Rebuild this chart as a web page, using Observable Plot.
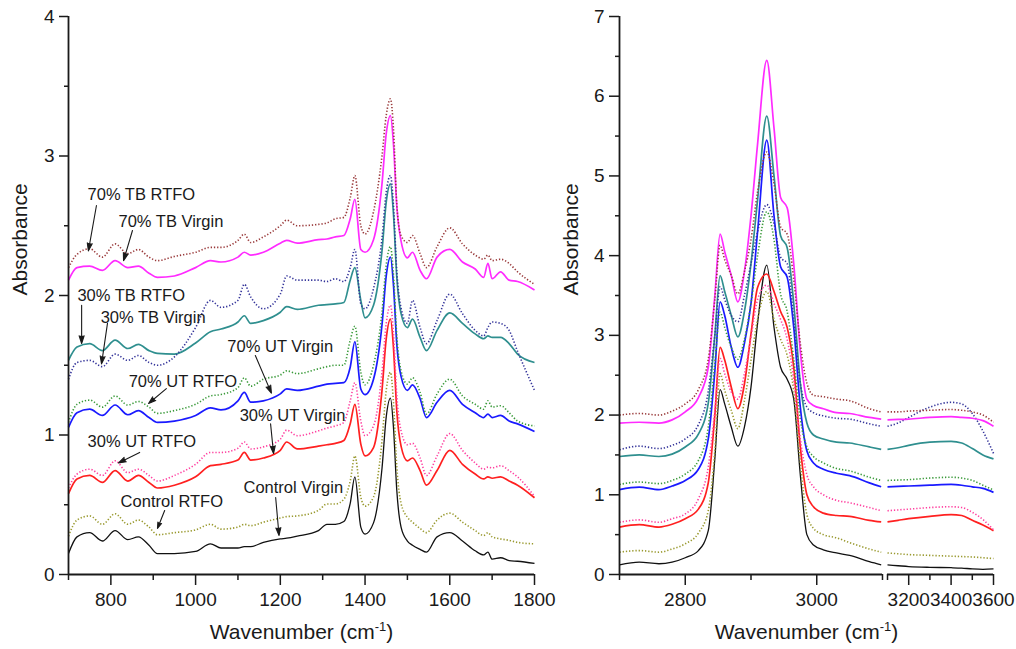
<!DOCTYPE html>
<html><head><meta charset="utf-8">
<script src="https://cdn.jsdelivr.net/npm/d3@7"></script>
<script src="https://cdn.jsdelivr.net/npm/@observablehq/plot@0.6"></script>
<style>
html,body{margin:0;padding:0;background:#fff;}
#wrap{display:flex;width:1016px;height:649px;}
svg{font-family:"Liberation Sans",Arial,sans-serif;}
</style></head><body><div id="wrap"></div>
<script>
// ---------- series definitions ----------
const seriesNames  = ["Control Virgin","Control RTFO","30% UT Virgin","30% UT RTFO","70% UT Virgin","70% UT RTFO","30% TB RTFO","30% TB Virgin","70% TB Virgin","70% TB RTFO"];
const seriesColors = ["#111111","#99992e","#ff2020","#ff3f9f","#1a1aff","#3a9a3a","#2f8f8f","#34349a","#ff2bff","#99393a"];
const seriesDotted = [false,true,false,true,false,true,false,true,false,true];

// ---------- left panel (fingerprint region) ----------
const leftWavenumbers = [700,720,750,780,810,840,865,890,910,950,1000,1035,1060,1100,1115,1130,1160,1200,1215,1240,1290,1310,1330,1350,1365,1376,1390,1400,1420,1440,1450,1460,1467,1475,1485,1500,1512,1530,1545,1570,1600,1630,1660,1680,1690,1700,1720,1740,1760,1800];
const leftControlVirgin = [.15,.27,.30,.24,.315,.25,.27,.21,.15,.15,.165,.22,.19,.19,.20,.20,.23,.255,.26,.275,.315,.36,.36,.38,.51,.70,.34,.29,.37,.76,1.13,1.265,1.06,.60,.34,.24,.21,.18,.16,.27,.30,.24,.17,.14,.16,.11,.12,.10,.095,.08];
const leftControlRTFO   = [.275,.39,.42,.36,.435,.36,.39,.34,.285,.30,.32,.36,.325,.34,.36,.35,.375,.405,.415,.42,.46,.505,.505,.54,.67,.85,.555,.49,.555,.96,1.32,1.45,1.24,.77,.51,.41,.375,.33,.30,.39,.44,.375,.315,.28,.30,.27,.255,.245,.23,.22];
const leftUT30Virgin    = [.58,.685,.71,.66,.745,.67,.71,.66,.62,.64,.70,.78,.79,.82,.875,.82,.835,.89,.95,.90,.92,.93,.94,.96,1.08,1.22,.935,.85,.91,1.32,1.69,1.83,1.63,1.17,.92,.815,.835,.745,.64,.745,.89,.79,.72,.685,.70,.69,.70,.67,.64,.55];
const leftUT30RTFO      = [.62,.72,.755,.71,.815,.73,.755,.71,.67,.71,.79,.875,.875,.905,.95,.90,.915,.97,1.035,.995,1.03,1.05,1.065,1.09,1.245,1.375,1.10,.995,1.065,1.45,1.80,1.93,1.73,1.28,1.03,.93,.94,.835,.71,.85,1.01,.89,.80,.755,.77,.765,.78,.745,.70,.56];
const leftUT70Virgin    = [1.055,1.16,1.185,1.14,1.215,1.145,1.175,1.125,1.09,1.10,1.14,1.195,1.18,1.245,1.305,1.235,1.245,1.295,1.33,1.32,1.35,1.365,1.37,1.375,1.486,1.67,1.33,1.29,1.40,1.79,2.14,2.275,2.08,1.65,1.42,1.32,1.36,1.26,1.125,1.235,1.32,1.22,1.16,1.125,1.15,1.125,1.14,1.10,1.08,1.025];
const leftUT70RTFO      = [1.09,1.22,1.25,1.20,1.28,1.215,1.24,1.20,1.155,1.175,1.22,1.28,1.29,1.34,1.41,1.35,1.40,1.43,1.46,1.44,1.475,1.49,1.50,1.50,1.68,1.78,1.45,1.36,1.50,1.88,2.22,2.35,2.15,1.71,1.46,1.365,1.41,1.305,1.15,1.295,1.40,1.28,1.22,1.185,1.245,1.20,1.21,1.16,1.10,1.065];
const leftTB30RTFO      = [1.535,1.63,1.655,1.605,1.68,1.62,1.65,1.605,1.585,1.58,1.66,1.74,1.76,1.81,1.855,1.80,1.82,1.88,1.92,1.90,1.93,1.935,1.94,1.95,2.11,2.20,1.965,1.84,1.93,2.32,2.67,2.80,2.59,2.13,1.87,1.77,1.83,1.70,1.605,1.75,1.875,1.80,1.725,1.69,1.71,1.70,1.70,1.655,1.58,1.52];
const leftTB30Virgin    = [1.40,1.52,1.535,1.49,1.58,1.535,1.57,1.52,1.50,1.56,1.77,1.965,1.915,1.965,2.08,1.99,1.905,2.01,2.14,2.11,2.11,2.10,2.12,2.10,2.20,2.33,1.94,1.905,2.05,2.41,2.74,2.86,2.65,2.17,1.91,1.80,1.965,1.77,1.655,1.82,2.01,1.87,1.75,1.71,1.77,1.81,1.80,1.75,1.60,1.32];
const leftTB70Virgin    = [2.11,2.20,2.21,2.18,2.25,2.20,2.21,2.16,2.13,2.14,2.20,2.25,2.24,2.275,2.31,2.29,2.31,2.375,2.395,2.375,2.40,2.405,2.42,2.43,2.55,2.69,2.33,2.31,2.40,2.80,3.16,3.29,3.09,2.64,2.39,2.27,2.31,2.18,2.12,2.275,2.33,2.24,2.19,2.13,2.23,2.12,2.17,2.11,2.10,2.04];
const leftTB70RTFO      = [2.20,2.295,2.335,2.275,2.37,2.30,2.33,2.275,2.25,2.28,2.31,2.345,2.345,2.395,2.44,2.38,2.42,2.50,2.54,2.50,2.51,2.52,2.55,2.56,2.70,2.86,2.50,2.44,2.60,3.0,3.29,3.41,3.20,2.65,2.43,2.38,2.43,2.30,2.20,2.35,2.485,2.37,2.29,2.26,2.29,2.25,2.26,2.23,2.17,2.08];

// ---------- right panel (C-H stretch region, broken axis) ----------
const rightWavenumbersA = [2700,2730,2760,2780,2800,2820,2835,2845,2853,2860,2870,2880,2890,2900,2910,2924,2935,2945,2955,2965,2975,2985,2995,3010,3030,3050,3080,3098];
const rightWavenumbersB = [3100,3150,3200,3300,3400,3450,3500,3550,3600];
const rightControlVirginA = [.12,.155,.135,.155,.21,.30,.55,1.45,2.32,2.14,1.85,1.61,1.85,2.35,3.15,3.88,3.1,2.6,2.45,2.2,1.25,.50,.37,.31,.27,.24,.16,.12];
const rightControlRTFOA   = [.28,.30,.28,.32,.385,.52,.80,1.55,2.52,2.31,2.06,1.83,2.18,2.69,3.2,3.55,3.2,2.95,2.75,2.3,1.4,.75,.58,.50,.46,.40,.32,.28];
const rightUT30VirginA    = [.595,.625,.595,.63,.70,.82,1.15,2.0,2.85,2.69,2.35,2.08,2.39,3.02,3.6,3.77,3.55,3.3,3.1,2.6,1.6,1.0,.85,.77,.74,.73,.68,.66];
const rightUT30RTFOA      = [.655,.685,.655,.70,.76,.95,1.35,2.05,2.71,2.52,2.29,2.20,2.52,2.98,3.45,3.63,3.4,3.2,2.95,2.45,1.7,1.25,1.10,1.0,.93,.90,.84,.80];
const rightUT70VirginA    = [1.065,1.095,1.065,1.11,1.18,1.32,1.70,2.55,3.42,3.25,2.85,2.60,2.9,3.4,4.3,5.45,4.5,3.86,3.73,3.1,2.1,1.55,1.40,1.32,1.27,1.24,1.15,1.10];
const rightUT70RTFOA      = [1.13,1.16,1.14,1.18,1.26,1.43,1.85,2.65,3.29,3.1,2.85,2.70,2.95,3.4,4.0,4.55,4.2,3.52,3.3,2.7,1.95,1.6,1.48,1.40,1.33,1.30,1.22,1.18];
const rightTB30RTFOA      = [1.48,1.50,1.48,1.51,1.60,1.76,2.15,3.0,3.75,3.55,3.25,2.98,3.3,3.9,4.7,5.75,5.0,4.25,4.1,3.4,2.4,1.9,1.75,1.70,1.66,1.65,1.60,1.57];
const rightTB30VirginA    = [1.565,1.61,1.58,1.62,1.70,1.88,2.30,3.0,3.61,3.45,3.25,3.17,3.5,3.9,4.3,4.64,4.4,3.98,3.9,3.2,2.4,2.1,2.03,1.99,1.96,1.95,1.89,1.86];
const rightTB70VirginA    = [1.90,1.91,1.90,1.94,2.04,2.22,2.60,3.5,4.27,4.05,3.75,3.42,3.8,4.5,5.4,6.45,5.6,4.73,4.6,3.9,2.8,2.2,2.12,2.08,2.03,2.02,1.97,1.95];
const rightTB70RTFOA      = [2.00,2.02,2.00,2.05,2.14,2.32,2.70,3.45,4.13,3.95,3.75,3.52,3.8,4.2,4.8,5.30,4.9,4.36,4.27,3.7,2.9,2.4,2.25,2.23,2.20,2.18,2.08,2.04];
const rightControlVirginB = [.12,.11,.10,.09,.085,.08,.07,.065,.07];
const rightControlRTFOB   = [.27,.26,.25,.24,.23,.225,.22,.21,.20];
const rightUT30VirginB    = [.66,.68,.70,.73,.75,.74,.68,.62,.55];
const rightUT30RTFOB      = [.80,.81,.82,.84,.85,.84,.78,.69,.56];
const rightUT70VirginB    = [1.10,1.105,1.11,1.12,1.13,1.12,1.10,1.08,1.03];
const rightUT70RTFOB      = [1.18,1.185,1.19,1.21,1.22,1.21,1.18,1.12,1.06];
const rightTB30RTFOB      = [1.57,1.59,1.62,1.66,1.67,1.65,1.58,1.50,1.45];
const rightTB30VirginB    = [1.86,1.90,1.97,2.10,2.16,2.14,2.02,1.80,1.52];
const rightTB70VirginB    = [1.94,1.945,1.95,1.97,1.98,1.97,1.96,1.93,1.86];
const rightTB70RTFOB      = [2.04,2.04,2.05,2.06,2.07,2.06,2.04,2.00,1.91];

// ---------- axes ticks ----------
const leftMajorTicks = [800,1000,1200,1400,1600,1800];
const leftMinorTicks = [700,900,1100,1300,1500,1700];
const leftYMajor = [0,1,2,3,4];
const leftYMinor = [0.5,1.5,2.5,3.5];
const rightMajorTicks = [2800,3000,3200,3400,3600];
const rightMinorTicks = [2700,2900,3099.99,3100,3300,3500];
const rightYMajor = [0,1,2,3,4,5,6,7];
const rightYMinor = [0.5,1.5,2.5,3.5,4.5,5.5,6.5];
const rightAxisPieces = [{x1:2700,x2:3099.99},{x1:3100,x2:3600}];

// ---------- annotations (left panel, data units) ----------
const annotationTexts = ["70% TB RTFO","70% TB Virgin","30% TB RTFO","30% TB Virgin","70% UT Virgin","70% UT RTFO","30% UT Virgin","30% UT RTFO","Control RTFO","Control Virgin"];
const annotationX = [745,818,721,776,1075,842,1104,745,823,1113];
const annotationY = [2.72,2.53,2.00,1.84,1.63,1.38,1.14,0.95,0.52,0.62];
const arrowFromX = [766,851,731,792,1141,931,1177,868,927,1189];
const arrowFromY = [2.645,2.466,1.93,1.80,1.57,1.333,1.08,0.875,0.459,0.552];
const arrowToX   = [747,830,731,778,1179,889,1184,818,910,1197];
const arrowToY   = [2.32,2.25,1.656,1.51,1.30,1.226,0.867,0.80,0.33,0.28];

// ---------- build tables ----------
const leftValues = [leftControlVirgin,leftControlRTFO,leftUT30Virgin,leftUT30RTFO,leftUT70Virgin,leftUT70RTFO,leftTB30RTFO,leftTB30Virgin,leftTB70Virgin,leftTB70RTFO];
const rightValuesA = [rightControlVirginA,rightControlRTFOA,rightUT30VirginA,rightUT30RTFOA,rightUT70VirginA,rightUT70RTFOA,rightTB30RTFOA,rightTB30VirginA,rightTB70VirginA,rightTB70RTFOA];
const rightValuesB = [rightControlVirginB,rightControlRTFOB,rightUT30VirginB,rightUT30RTFOB,rightUT70VirginB,rightUT70RTFOB,rightTB30RTFOB,rightTB30VirginB,rightTB70VirginB,rightTB70RTFOB];

const leftData = seriesNames.flatMap((s,si)=>leftValues[si].map((v,i)=>({series:s,seg:0,wn:leftWavenumbers[i],a:v})));
const rightData = seriesNames.flatMap((s,si)=>[
  ...rightValuesA[si].map((v,i)=>({series:s,seg:0,wn:rightWavenumbersA[i],a:v})),
  ...rightValuesB[si].map((v,i)=>({series:s,seg:1,wn:rightWavenumbersB[i],a:v}))
]);
const annotations = annotationTexts.map((t,i)=>({text:t,x:annotationX[i],y:annotationY[i]}));
const arrows = annotationTexts.map((t,i)=>({x1:arrowFromX[i],y1:arrowFromY[i],x2:arrowToX[i],y2:arrowToY[i]}));

const FONT = '"Liberation Sans", Arial, sans-serif';
const INK = "#1a1a1a";

function seriesMarks(data){
  return seriesNames.map((name,si)=>Plot.line(data.filter(d=>d.series===name),{
    x:"wn", y:"a", z:"seg", stroke:seriesColors[si],
    strokeWidth: seriesDotted[si] ? 1.6 : (si===0 ? 1.3 : 1.7),
    strokeDasharray: seriesDotted[si] ? "1.3,1.9" : null,
    strokeLinecap: "butt",
    curve:"monotone-x"
  }));
}

function axisCommon(opts){ return Object.assign({stroke:INK, fill:INK, strokeWidth:1.5, label:null}, opts); }

const left = Plot.plot({
  width:560, height:649, marginLeft:68, marginRight:26, marginTop:16, marginBottom:75,
  style:{fontFamily:FONT, background:"transparent", overflow:"visible", color:INK},
  x:{domain:[700,1800]}, y:{domain:[0,4]},
  marks:[
    ...seriesMarks(leftData),
    Plot.ruleX([700],{stroke:INK, strokeWidth:1.8}),
    Plot.ruleY([0],{stroke:INK, strokeWidth:1.8}),
    Plot.axisX(axisCommon({ticks:leftMajorTicks, tickSize:11, tickPadding:7, tickFormat:d=>String(d), fontSize:19})),
    Plot.axisX(axisCommon({ticks:leftMinorTicks, tickSize:6, tickFormat:()=>""})),
    Plot.axisY(axisCommon({ticks:leftYMajor, tickSize:9, tickPadding:5, tickFormat:d=>String(d), fontSize:19})),
    Plot.axisY(axisCommon({ticks:leftYMinor, tickSize:4, tickFormat:()=>""})),
    Plot.text(["Wavenumber (cm-1)"],{frameAnchor:"bottom", dy:64, fontSize:21, fill:INK}),
    Plot.text(["Absorbance"],{frameAnchor:"left", dx:-48, rotate:-90, fontSize:21, fill:INK}),
    Plot.text(annotations,{x:"x", y:"y", text:"text", textAnchor:"start", fontSize:16.5, fill:INK}),
    Plot.arrow(arrows,{x1:"x1", y1:"y1", x2:"x2", y2:"y2", stroke:INK, strokeWidth:1.1, headLength:11, headAngle:36})
  ]
});

const right = Plot.plot({
  width:456, height:649, marginLeft:59, marginRight:23, marginTop:16, marginBottom:75,
  style:{fontFamily:FONT, background:"transparent", overflow:"visible", color:INK},
  x:{type:"linear", domain:[2700,3100,3100,3600], range:[59,322,327,433]},
  y:{domain:[0,7]},
  marks:[
    ...seriesMarks(rightData),
    Plot.ruleX([2700],{stroke:INK, strokeWidth:1.8}),
    Plot.ruleY(rightAxisPieces,{y:()=>0, x1:"x1", x2:"x2", stroke:INK, strokeWidth:1.8}),
    Plot.axisX(axisCommon({ticks:rightMajorTicks, tickSize:11, tickPadding:7, tickFormat:d=>String(d), fontSize:19})),
    Plot.axisX(axisCommon({ticks:rightMinorTicks, tickSize:6, tickFormat:()=>""})),
    Plot.axisY(axisCommon({ticks:rightYMajor, tickSize:10, tickPadding:5, tickFormat:d=>String(d), fontSize:19})),
    Plot.axisY(axisCommon({ticks:rightYMinor, tickSize:4, tickFormat:()=>""})),
    Plot.text(["Wavenumber (cm-1)"],{frameAnchor:"bottom", dy:64, fontSize:21, fill:INK}),
    Plot.text(["Absorbance"],{frameAnchor:"left", dx:-48, rotate:-90, fontSize:21, fill:INK})
  ]
});

function superscript(svg){
  svg.querySelectorAll("text").forEach(t=>{
    if (t.textContent === "Wavenumber (cm-1)") {
      while (t.firstChild) t.removeChild(t.firstChild);
      const ns = "http://www.w3.org/2000/svg";
      const a = document.createElementNS(ns,"tspan"); a.textContent = "Wavenumber (cm";
      const b = document.createElementNS(ns,"tspan"); b.textContent = "-1"; b.setAttribute("font-size","13"); b.setAttribute("dy","-8");
      const c = document.createElementNS(ns,"tspan"); c.textContent = ")"; c.setAttribute("dy","8");
      t.append(a,b,c);
    }
  });
  svg.querySelectorAll('g[aria-label="arrow"] path').forEach(p=>{ p.setAttribute("fill", INK); });
}
superscript(left); superscript(right);
document.getElementById("wrap").append(left, right);
</script></body></html>
